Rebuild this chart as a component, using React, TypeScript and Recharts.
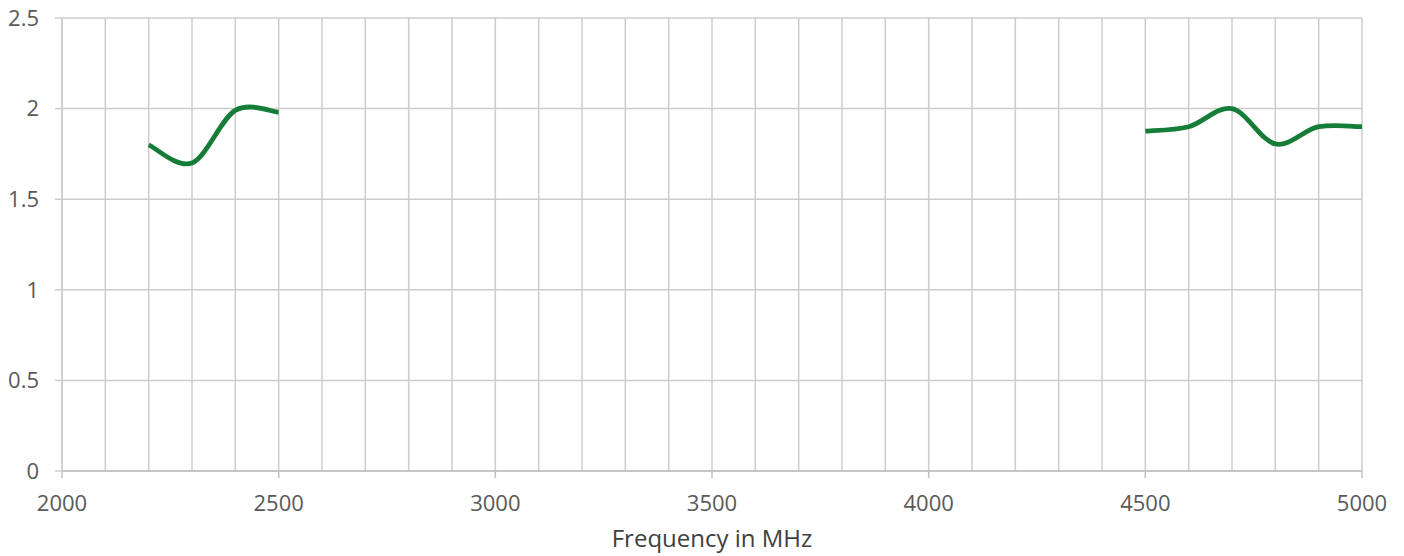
import React from "react";
import { LineChart, Line, XAxis, YAxis, CartesianGrid } from "recharts";

const frequencies = [2200, 2300, 2400, 2500, 3500, 4500, 4600, 4700, 4800, 4900, 5000];
const vswr: (number | null)[] = [1.8, 1.7, 1.99, 1.98, null, 1.875, 1.9, 2.0, 1.805, 1.9, 1.9];

const xTicks = [
  2000, 2100, 2200, 2300, 2400, 2500, 2600, 2700, 2800, 2900, 3000, 3100, 3200, 3300, 3400, 3500,
  3600, 3700, 3800, 3900, 4000, 4100, 4200, 4300, 4400, 4500, 4600, 4700, 4800, 4900, 5000,
];
const xLabelTicks = [2000, 2500, 3000, 3500, 4000, 4500, 5000];
const yTicks = [0, 0.5, 1, 1.5, 2, 2.5];

const data = frequencies.map((f, i) => ({ freq: f, value: vswr[i] }));

const FONT = "'Open Sans', sans-serif";

// Excel-like smoothed line (Catmull-Rom Bezier segments)
const excelSmooth = (context: any) => {
  let pts: [number, number][] = [];
  return {
    areaStart() {},
    areaEnd() {},
    lineStart() {
      pts = [];
    },
    point(x: number, y: number) {
      pts.push([+x, +y]);
    },
    lineEnd() {
      const n = pts.length;
      if (!n) return;
      context.moveTo(pts[0][0], pts[0][1]);
      if (n === 1) {
        context.lineTo(pts[0][0], pts[0][1]);
        return;
      }
      for (let i = 0; i < n - 1; i++) {
        const p0 = pts[i - 1] || pts[i];
        const p1 = pts[i];
        const p2 = pts[i + 1];
        const p3 = pts[i + 2] || pts[i + 1];
        const c1x = p1[0] + (p2[0] - p0[0]) / 6;
        const c1y = p1[1] + (p2[1] - p0[1]) / 6;
        const c2x = p2[0] - (p3[0] - p1[0]) / 6;
        const c2y = p2[1] - (p3[1] - p1[1]) / 6;
        context.bezierCurveTo(c1x, c1y, c2x, c2y, p2[0], p2[1]);
      }
    },
  };
};

const XTick = (props: any) => {
  const { x, y, payload } = props;
  if (!xLabelTicks.includes(payload.value)) return null;
  return (
    <g>
      <line x1={x} x2={x} y1={y} y2={y + 7} stroke="#bfbfbf" strokeWidth={1.5} />
      <text x={x} y={y + 24} dy="0.71em" textAnchor="middle" fill="#595959" fontSize={22} fontFamily={FONT}>
        {payload.value}
      </text>
    </g>
  );
};

export default function App() {
  return (
    <div style={{ position: "absolute", left: 0, top: 0, background: "#fff" }}>
      <LineChart
        width={1404}
        height={556}
        data={data}
        margin={{ top: 18, right: 42, left: 0, bottom: 0 }}
        style={{ fontFamily: FONT }}
      >
        <CartesianGrid stroke="#cccccc" strokeWidth={1.5} vertical={true} horizontal={true} />
        <XAxis
          dataKey="freq"
          type="number"
          domain={[2000, 5000]}
          ticks={xTicks}
          interval={0}
          height={85}
          tickSize={0}
          tickMargin={0}
          tickLine={false}
          tick={<XTick />}
          axisLine={{ stroke: "#bfbfbf", strokeWidth: 1.5 }}
          label={{
            value: "Frequency in MHz",
            position: "insideBottom",
            offset: 9,
            fill: "#404040",
            fontSize: 24,
            fontFamily: FONT,
          }}
        />
        <YAxis
          type="number"
          domain={[0, 2.5]}
          ticks={yTicks}
          interval={0}
          width={62}
          tickSize={7}
          tickMargin={16}
          tickLine={{ stroke: "#cccccc", strokeWidth: 1.5 }}
          axisLine={{ stroke: "#cccccc", strokeWidth: 1.5 }}
          tick={{ fill: "#595959", fontSize: 22, fontFamily: FONT }}
        />
        <Line
          type={excelSmooth as any}
          dataKey="value"
          stroke="#157d38"
          strokeWidth={4.8}
          dot={false}
          activeDot={false}
          connectNulls={false}
          isAnimationActive={false}
        />
      </LineChart>
    </div>
  );
}
